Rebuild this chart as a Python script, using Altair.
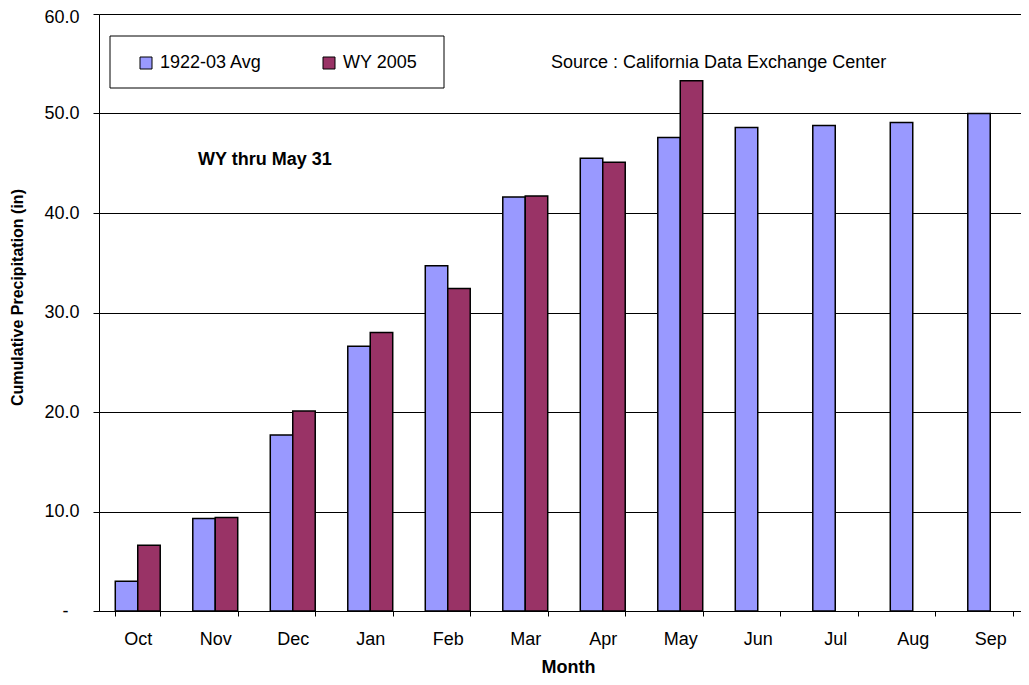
import altair as alt
import pandas as pd

months = ["Oct", "Nov", "Dec", "Jan", "Feb", "Mar", "Apr", "May", "Jun", "Jul", "Aug", "Sep"]
avg_1922_03 = [3.0, 9.3, 17.7, 26.6, 34.7, 41.6, 45.5, 47.6, 48.6, 48.8, 49.1, 50.0]
wy_2005 = [6.6, 9.4, 20.1, 28.0, 32.4, 41.7, 45.1, 53.3, None, None, None, None]
series_names = ["1922-03 Avg", "WY 2005"]
series_colors = ["#9999FF", "#993366"]
y_ticks = [0, 10, 20, 30, 40, 50, 60]

rows = []
for m, a, w in zip(months, avg_1922_03, wy_2005):
    rows.append({"Month": m, "Series": series_names[0], "Value": a})
    if w is not None:
        rows.append({"Month": m, "Series": series_names[1], "Value": w})
df = pd.DataFrame(rows)

FONT = "Liberation Sans"
one = pd.DataFrame({"k": [0]})

label_expr = "datum.value == 0 ? '-' : format(datum.value, '.1f')"

bars = alt.Chart(df).mark_bar(stroke="black", strokeWidth=1.5).encode(
    x=alt.X(
        "Month:N",
        sort=months,
        scale=alt.Scale(paddingInner=0.42, paddingOuter=0.21),
        axis=alt.Axis(
            title="Month",
            labelAngle=0,
            tickBand="extent",
            tickSize=5,
            labelPadding=14,
            grid=False,
            titleX=469,
            titleY=56,
            titleBaseline="middle",
            titleFontSize=18,
        ),
    ),
    xOffset=alt.XOffset("Series:N", sort=series_names,
                        scale=alt.Scale(domain=series_names, paddingInner=0, paddingOuter=0)),
    y=alt.Y(
        "Value:Q",
        scale=alt.Scale(domain=[0, 60], nice=False),
        axis=alt.Axis(
            title="Cumulative Precipitation (in)",
            values=y_ticks,
            labelExpr=label_expr,
            tickSize=6,
            labelPadding={"condition": {"test": "datum.value == 0", "value": 25}, "value": 14},
            labelOffset={"condition": {"test": "datum.value == 60", "value": 3}, "value": 0},
            grid=True,
            titleAngle=270,
            titleX=-82,
            titleY=283,
            titleAlign="center",
            titleBaseline="middle",
            titleFontSize=16,
        ),
    ),
    color=alt.Color(
        "Series:N",
        scale=alt.Scale(domain=series_names, range=series_colors),
        legend=alt.Legend(
            title=None,
            orient="none",
            legendX=38,
            legendY=40,
            direction="horizontal",
            columns=2,
            columnPadding=58,
            symbolType="square",
            symbolSize=144,
            symbolStrokeColor="black",
            symbolStrokeWidth=1,
            labelFontSize=18,
            labelFont=FONT,
            labelColor="black",
            labelOffset=5,
            padding=0,
        ),
    ),
)

legend_box = alt.Chart(one).mark_rect(fill="white", stroke="black", strokeWidth=1).encode(
    x=alt.value(11), x2=alt.value(345), y=alt.value(22), y2=alt.value(74)
)

note = alt.Chart(one).mark_text(
    align="left", baseline="middle", fontSize=18, font=FONT, fontWeight="bold", color="black"
).encode(x=alt.value(99), y=alt.value(146), text=alt.value("WY thru May 31"))

source = alt.Chart(one).mark_text(
    align="left", baseline="middle", fontSize=18, font=FONT, color="black"
).encode(x=alt.value(452), y=alt.value(49), text=alt.value("Source : California Data Exchange Center"))

chart = alt.layer(legend_box, bars, note, source).properties(
    width=930,
    height=597,
    padding={"left": 91, "top": 6, "right": -8, "bottom": 65},
    autosize=alt.AutoSizeParams(type="none"),
).configure_view(strokeWidth=0).configure_axis(
    labelFont=FONT,
    labelFontSize=18,
    labelColor="black",
    titleFont=FONT,
    titleFontWeight="bold",
    titleColor="black",
    domainColor="black",
    domainWidth=1,
    tickColor="black",
    gridColor="black",
    gridWidth=1,
)

chart.save("out.html", embed_options={"renderer": "svg", "actions": False})
